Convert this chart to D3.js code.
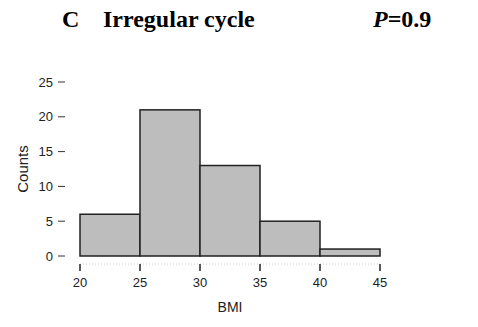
<!DOCTYPE html>
<html>
<head>
<meta charset="utf-8">
<script src="https://cdn.jsdelivr.net/npm/d3@7"></script>
<style>
  body { margin: 0; background: #fff; }
  svg { display: block; }
</style>
</head>
<body>
<svg id="chart" width="478" height="327"></svg>
<script>
// histogram bins (BMI) and counts
const binEdges = [20, 25, 30, 35, 40, 45];
const counts = [6, 21, 13, 5, 1];
const xTicks = [20, 25, 30, 35, 40, 45];
const yTicks = [0, 5, 10, 15, 20, 25];

const svg = d3.select('#chart');

const x = d3.scaleLinear().domain([20, 45]).range([80, 380]);
const y = d3.scaleLinear().domain([0, 25]).range([256, 82]);

const bins = counts.map((c, i) => ({ x0: binEdges[i], x1: binEdges[i + 1], n: c }));

// title
const title = svg.append('text')
  .attr('y', 27)
  .style('font-family', '"Liberation Serif", "Times New Roman", serif')
  .style('font-weight', 'bold')
  .style('font-size', '24px')
  .attr('fill', '#000');
title.append('tspan').attr('x', 62).text('C');
title.append('tspan').attr('x', 103).text('Irregular cycle');

const pval = svg.append('text')
  .attr('x', 373)
  .attr('y', 27)
  .style('font-family', '"Liberation Serif", "Times New Roman", serif')
  .style('font-weight', 'bold')
  .style('font-size', '24px');
pval.append('tspan').style('font-style', 'italic').text('P');
pval.append('tspan').text('=0.9');

// bars
svg.append('g').selectAll('rect')
  .data(bins)
  .join('rect')
  .attr('x', d => x(d.x0))
  .attr('y', d => y(d.n))
  .attr('width', d => x(d.x1) - x(d.x0))
  .attr('height', d => y(0) - y(d.n))
  .attr('fill', '#bdbdbd')
  .attr('stroke', '#222')
  .attr('stroke-width', 1.5);

// y axis: ticks only, no spine
const yAxis = svg.append('g');
yAxis.selectAll('line')
  .data(yTicks)
  .join('line')
  .attr('x1', 58).attr('x2', 65)
  .attr('y1', d => y(d)).attr('y2', d => y(d))
  .attr('stroke', '#333').attr('stroke-width', 1);
yAxis.selectAll('text')
  .data(yTicks)
  .join('text')
  .attr('x', 53)
  .attr('y', d => y(d))
  .attr('dy', '0.35em')
  .attr('text-anchor', 'end')
  .style('font-family', '"Liberation Sans", Arial, sans-serif')
  .style('font-size', '13px')
  .attr('fill', '#222')
  .text(d => d);

svg.append('text')
  .attr('transform', 'translate(28,169) rotate(-90)')
  .attr('text-anchor', 'middle')
  .style('font-family', '"Liberation Sans", Arial, sans-serif')
  .style('font-size', '15px')
  .attr('fill', '#222')
  .text('Counts');

// x axis: dotted baseline plus ticks
const xAxis = svg.append('g');
xAxis.append('line')
  .attr('x1', x(20)).attr('x2', x(45))
  .attr('y1', 264).attr('y2', 264)
  .attr('stroke', '#ccc').attr('stroke-width', 1)
  .attr('stroke-dasharray', '1,2');
xAxis.selectAll('line.tick')
  .data(xTicks)
  .join('line')
  .attr('class', 'tick')
  .attr('x1', d => x(d)).attr('x2', d => x(d))
  .attr('y1', 264).attr('y2', 271)
  .attr('stroke', '#222').attr('stroke-width', 1.5);
xAxis.selectAll('text')
  .data(xTicks)
  .join('text')
  .attr('x', d => x(d))
  .attr('y', 287)
  .attr('text-anchor', 'middle')
  .style('font-family', '"Liberation Sans", Arial, sans-serif')
  .style('font-size', '13px')
  .attr('fill', '#222')
  .text(d => d);

svg.append('text')
  .attr('x', x(32.5))
  .attr('y', 312)
  .attr('text-anchor', 'middle')
  .style('font-family', '"Liberation Sans", Arial, sans-serif')
  .style('font-size', '14px')
  .attr('fill', '#222')
  .text('BMI');
</script>
</body>
</html>
